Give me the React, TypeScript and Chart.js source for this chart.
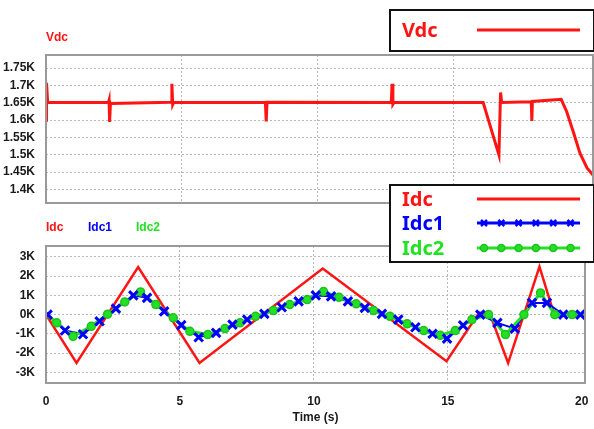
import React, { useEffect, useRef } from 'react';
import { Chart, registerables } from 'chart.js';

Chart.register(...registerables);

// ---------- data ----------
const vdcName = 'Vdc';
const idcName = 'Idc';
const idc1Name = 'Idc1';
const idc2Name = 'Idc2';

const vdcTime = [0, 0.02, 0.06, 2.30, 2.32, 2.34, 2.37, 4.60, 4.63, 4.66, 4.70, 8.07, 8.10, 8.13, 12.70, 12.73, 12.76, 12.80, 16.08, 16.66, 16.72, 16.76, 17.85, 17.87, 17.89, 18.95, 19.15, 19.40, 19.64, 19.90, 20.12];
const vdcValue = [1600, 1708, 1652, 1651, 1657, 1595, 1648, 1652, 1705, 1645, 1652, 1651, 1596, 1652, 1651, 1705, 1646, 1651, 1651, 1500, 1680, 1651, 1653, 1598, 1654, 1660, 1625, 1565, 1505, 1462, 1442];

const idcTime = [0, 1.14, 3.44, 5.73, 10.33, 14.95, 16.17, 16.58, 17.25, 18.42, 18.97, 20.12];
const idcValue = [0, -2520, 2470, -2520, 2400, -2430, 100, 0, -2520, 2500, 0, 0];

const idc1Time = [0.06, 0.71, 1.38, 2.00, 2.61, 3.26, 3.77, 4.41, 5.05, 5.70, 6.35, 6.96, 7.51, 8.15, 8.80, 9.43, 10.07, 10.64, 11.27, 11.90, 12.54, 13.15, 13.79, 14.43, 14.97, 15.57, 16.21, 16.85, 17.50, 18.14, 18.70, 19.31, 19.95];
const idc1Value = [0, -830, -1020, -350, 310, 1000, 870, 170, -550, -1180, -950, -520, -260, 40, 380, 690, 1000, 950, 690, 350, 40, -260, -660, -1000, -1250, -560, 0, -430, -730, 610, 610, 0, 0];

const idc2Time = [0, 0.40, 1.01, 1.69, 2.30, 2.94, 3.53, 4.10, 4.75, 5.37, 6.04, 6.68, 7.24, 7.82, 8.49, 9.10, 9.75, 10.36, 10.94, 11.58, 12.23, 12.84, 13.48, 14.10, 14.72, 15.28, 15.90, 16.52, 17.15, 17.84, 18.46, 18.99, 19.64, 20.12];
const idc2Value = [0, -430, -1130, -610, 20, 660, 1180, 520, -170, -870, -1040, -730, -430, -90, 210, 520, 780, 1200, 900, 560, 210, -90, -480, -830, -1080, -830, -260, 0, -1040, 0, 1130, 0, 0, 0];

const vdcTicks = [1400, 1450, 1500, 1550, 1600, 1650, 1700, 1750];
const idcTicks = [-3000, -2000, -1000, 0, 1000, 2000, 3000];
const timeTicks = [0, 5, 10, 15, 20];
const timeTitle = 'Time (s)';

// ---------- styles ----------
const NARROW = "'Liberation Sans Narrow', 'Liberation Sans', Arial, sans-serif";
const LEGEND_FONT = "'Noto Sans', 'Open Sans', sans-serif";
const RED = '#ff1414';
const BLUE = '#0000ff';
const GREEN = '#22e022';
const GREEN_EDGE = '#20c020';
const GRID = '#b8b8b8';
const FRAME = '#9a9a9a';
const TICK_COLOR = '#1a1a1a';

const kLabel = (v: number) => `${+(v / 1000).toFixed(2)}K`;
const pts = (xs: number[], ys: number[]) => xs.map((x, i) => ({ x, y: ys[i] }));

function drawCross(ctx: CanvasRenderingContext2D, x: number, y: number, r: number, color: string, w: number) {
  ctx.save();
  ctx.strokeStyle = color;
  ctx.lineWidth = w;
  ctx.beginPath();
  ctx.moveTo(x - r, y - r); ctx.lineTo(x + r, y + r);
  ctx.moveTo(x - r, y + r); ctx.lineTo(x + r, y - r);
  ctx.stroke();
  ctx.restore();
}
function drawDot(ctx: CanvasRenderingContext2D, x: number, y: number, r: number) {
  ctx.save();
  ctx.fillStyle = GREEN;
  ctx.strokeStyle = GREEN_EDGE;
  ctx.lineWidth = 1.5;
  ctx.beginPath();
  ctx.arc(x, y, r, 0, Math.PI * 2);
  ctx.fill();
  ctx.stroke();
  ctx.restore();
}

function frame(chart: any) {
  const { ctx, chartArea: a } = chart;
  ctx.save();
  ctx.strokeStyle = FRAME;
  ctx.lineWidth = 2;
  ctx.strokeRect(a.left, a.top, a.right - a.left, a.bottom - a.top);
  ctx.restore();
}

type LegendRow = { label: string; color: string; kind: 'line' | 'cross' | 'dot' };

function legendBox(ctx: CanvasRenderingContext2D, bx: number, by: number, bw: number, bh: number, rows: LegendRow[], rowY: number[]) {
  ctx.save();
  ctx.fillStyle = '#fff';
  ctx.fillRect(bx, by, bw, bh);
  ctx.strokeStyle = '#111';
  ctx.lineWidth = 2;
  ctx.strokeRect(bx, by, bw, bh);
  ctx.font = `bold 20px ${LEGEND_FONT}`;
  ctx.textBaseline = 'middle';
  ctx.textAlign = 'left';
  rows.forEach((r, i) => {
    const y = rowY[i];
    ctx.fillStyle = r.color;
    ctx.fillText(r.label, bx + 12, y + 1);
    const x0 = bx + 87, x1 = bx + 190;
    ctx.strokeStyle = r.color;
    ctx.lineWidth = 3;
    ctx.beginPath();
    ctx.moveTo(x0, y); ctx.lineTo(x1, y);
    ctx.stroke();
    if (r.kind !== 'line') {
      for (let k = 0; k < 6; k++) {
        const mx = x0 + 7 + k * 17.3;
        if (r.kind === 'cross') drawCross(ctx, mx, y, 3, r.color, 2.5);
        else drawDot(ctx, mx, y, 3.5);
      }
    }
  });
  ctx.restore();
}

const topDecor = {
  id: 'topDecor',
  afterDraw(chart: any) {
    const { ctx, chartArea: a } = chart;
    frame(chart);
    ctx.save();
    ctx.font = `bold 12px ${NARROW}`;
    ctx.fillStyle = RED;
    ctx.textBaseline = 'middle';
    ctx.textAlign = 'left';
    ctx.fillText(vdcName, a.left, a.top - 17);
    ctx.restore();
    legendBox(ctx, 390, 10, 204, 41, [{ label: vdcName, color: RED, kind: 'line' }], [30]);
  },
};

const bottomDecor = {
  id: 'bottomDecor',
  afterDraw(chart: any) {
    const { ctx, chartArea: a } = chart;
    frame(chart);
    ctx.save();
    ctx.font = `bold 12px ${NARROW}`;
    ctx.textBaseline = 'middle';
    ctx.textAlign = 'left';
    const offsets = [0, 42, 90];
    [[idcName, RED], [idc1Name, BLUE], [idc2Name, GREEN]].forEach(([t, c], i) => {
      ctx.fillStyle = c;
      ctx.fillText(t, a.left + offsets[i], a.top - 18);
    });
    ctx.restore();
    legendBox(ctx, 390, 185, 204, 77, [
      { label: idcName, color: RED, kind: 'line' },
      { label: idc1Name, color: BLUE, kind: 'cross' },
      { label: idc2Name, color: GREEN, kind: 'dot' },
    ], [199, 223, 248]);
  },
};

const tickFont = { family: NARROW, size: 12, weight: 'bold' as const };

function yAxis(min: number, max: number, ticks: number[]) {
  return {
    type: 'linear' as const,
    min, max,
    afterBuildTicks: (s: any) => { s.ticks = ticks.map((v) => ({ value: v })); },
    afterFit: (s: any) => { s.width = 46; },
    ticks: { font: tickFont, color: TICK_COLOR, padding: 11, callback: (v: any) => kLabel(Number(v)) },
    grid: { drawTicks: false, color: GRID, lineWidth: 1 },
    border: { display: false, dash: [2, 2] },
  };
}

function xAxis(showLabels: boolean) {
  return {
    type: 'linear' as const,
    min: 0, max: 20.12,
    afterBuildTicks: (s: any) => { s.ticks = timeTicks.map((v) => ({ value: v })); },
    afterFit: (s: any) => { s.height = showLabels ? 46 : 0; s.paddingLeft = 0; s.paddingRight = 0; },
    ticks: { display: showLabels, font: tickFont, color: TICK_COLOR, padding: 11, maxRotation: 0, autoSkip: false, callback: (v: any) => String(v) },
    grid: {
      drawTicks: false,
      lineWidth: 1,
      color: (c: any) => (c.tick && (c.tick.value === 0 || c.tick.value === 20) ? 'rgba(0,0,0,0)' : GRID),
    },
    border: { display: false, dash: [2, 2] },
    title: {
      display: showLabels,
      text: timeTitle,
      color: TICK_COLOR,
      font: { family: NARROW, size: 12, weight: 'bold' as const },
      padding: { top: 0, bottom: 4 },
    },
  };
}

export default function App() {
  const topRef = useRef<HTMLCanvasElement>(null);
  const botRef = useRef<HTMLCanvasElement>(null);

  useEffect(() => {
    const common = {
      animation: false as const,
      responsive: false,
      devicePixelRatio: 1,
      plugins: { legend: { display: false }, tooltip: { enabled: false }, title: { display: false } },
      elements: { line: { tension: 0 } },
    };

    const top = new Chart(topRef.current!, {
      type: 'line',
      data: {
        datasets: [{
          label: vdcName,
          data: pts(vdcTime, vdcValue),
          borderColor: RED,
          borderWidth: 3,
          pointRadius: 0,
          fill: false,
        }],
      },
      options: {
        ...common,
        layout: { padding: { left: 0, right: 1, top: 55, bottom: 226 } },
        scales: { x: xAxis(false), y: yAxis(1361, 1788, vdcTicks) },
      } as any,
      plugins: [topDecor],
    });

    const lastG = idc2Time.length - 1;
    const bot = new Chart(botRef.current!, {
      type: 'line',
      data: {
        datasets: [
          { label: idcName, data: pts(idcTime, idcValue), borderColor: RED, borderWidth: 2.5, pointRadius: 0, order: 4 },
          { label: idc1Name, data: pts(idc1Time, idc1Value), borderColor: BLUE, borderWidth: 2, pointRadius: 0, order: 3 },
          {
            label: idc2Name, data: pts(idc2Time, idc2Value), borderColor: GREEN, borderWidth: 3, order: 2,
            pointStyle: 'circle',
            pointRadius: (c: any) => (c.dataIndex === 0 || c.dataIndex === lastG ? 0 : 4),
            pointBackgroundColor: GREEN, pointBorderColor: GREEN_EDGE, pointBorderWidth: 1.5,
          },
          {
            label: idc1Name + ' markers', data: pts(idc1Time, idc1Value), showLine: false, order: 1,
            pointStyle: 'crossRot', pointRadius: 6, pointBorderColor: BLUE, pointBorderWidth: 3,
            borderColor: BLUE,
          },
        ],
      },
      options: {
        ...common,
        layout: { padding: { left: 0, right: 1, top: 246, bottom: 0 } },
        scales: { x: xAxis(true), y: yAxis(-3560, 3570, idcTicks) },
      } as any,
      plugins: [bottomDecor],
    });

    return () => { top.destroy(); bot.destroy(); };
  }, []);

  const cv: React.CSSProperties = { position: 'absolute', left: 0, top: 0, width: 594, height: 429 };
  return (
    <div style={{ position: 'fixed', left: 0, top: 0, width: 594, height: 429, background: '#fff', overflow: 'hidden' }}>
      <canvas ref={topRef} width={594} height={429} style={cv} />
      <canvas ref={botRef} width={594} height={429} style={cv} />
    </div>
  );
}
